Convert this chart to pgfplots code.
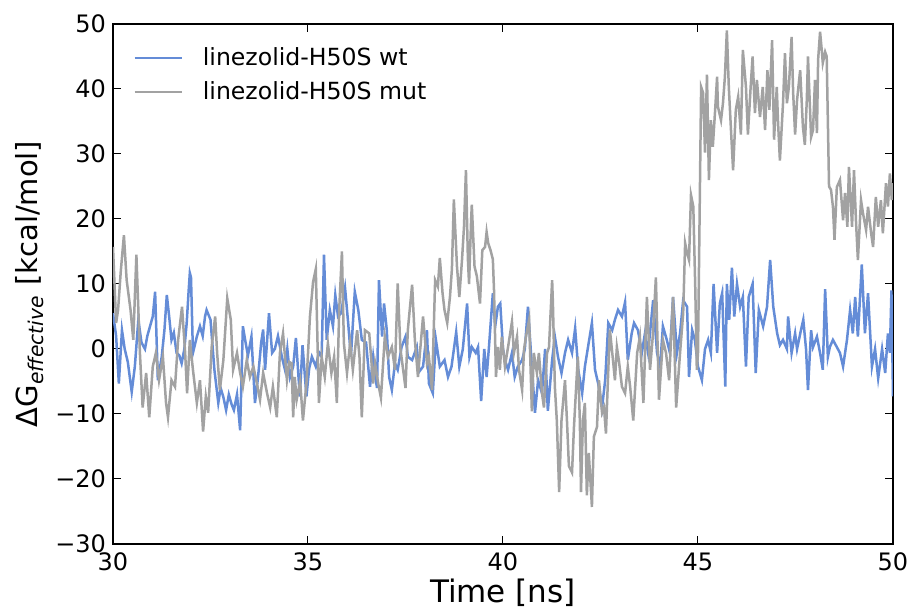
\documentclass[border=0pt]{standalone}
\usepackage{fontspec}
\setmainfont{DejaVu Sans}
\usepackage{pgfplots}
\pgfplotsset{compat=1.18}

\definecolor{wtblue}{RGB}{100,140,215}
\definecolor{mutgray}{RGB}{162,162,162}

\pgfplotstableread{
t v
30.00 5.5
30.08 2
30.15 -5.3
30.23 2.9
30.30 0
30.38 -2
30.48 -6.6
30.56 -2.7
30.65 4.5
30.73 1
30.82 0
30.88 2
30.95 3.5
31.02 5
31.08 8.8
31.15 -4.8
31.25 -1.2
31.32 3
31.38 8.3
31.44 5
31.50 1.4
31.56 2.5
31.63 -0.6
31.70 -1
31.76 -2.2
31.83 0
31.89 4
31.94 9
31.97 11.7
32.00 11
32.05 -0.6
32.15 1.9
32.23 3.5
32.30 2
32.36 5
32.40 6
32.50 4.5
32.60 -3.2
32.70 -8.3
32.76 -6
32.83 -7.4
32.90 -9.4
32.97 -7
33.04 -8.5
33.10 -9.4
33.18 -7
33.26 -12.5
33.33 3.5
33.40 1
33.46 -1
33.55 1.9
33.64 -8.3
33.72 -4.3
33.80 1
33.85 3
33.90 -3.2
34.00 5.5
34.08 -0.6
34.15 0
34.23 2
34.33 -1.2
34.41 -3.2
34.47 0
34.54 -4.3
34.62 -2.7
34.69 1.7
34.79 -7.3
34.86 0.6
34.96 -7.3
35.03 -3
35.10 -1.2
35.20 -2.7
35.28 -0.5
35.35 -1.2
35.41 14.5
35.48 1.4
35.56 6
35.64 3.5
35.70 8.3
35.77 5
35.85 5.5
35.95 9.4
36.03 4
36.10 -1.2
36.20 8.8
36.29 6
36.38 1.4
36.49 1
36.59 -5.8
36.67 -1.2
36.72 -4
36.77 -6
36.82 10.6
36.90 1.9
36.95 7
37.02 2.9
37.08 -4.3
37.15 -6.3
37.23 -2.2
37.30 -3.2
37.40 0.3
37.50 1.9
37.56 -1.2
37.67 -1.7
37.79 0.3
37.85 -3.5
37.95 -2.7
38.05 2.9
38.10 -5.3
38.20 -6.8
38.28 1.4
38.38 -2.7
38.50 -1.7
38.59 -4.3
38.68 -2.7
38.80 2.6
38.88 -2.7
38.97 0
39.08 7
39.14 -1.2
39.20 0.3
39.30 -0.6
39.36 0.3
39.44 -8
39.52 0
39.58 -4.3
39.64 0.3
39.74 8.6
39.80 3.5
39.87 6.5
39.93 7
40.00 0
40.05 -1.7
40.13 -3.2
40.23 -0.6
40.30 -4.3
40.38 -2.7
40.49 -1.7
40.56 0
40.64 6.5
40.74 -2.7
40.82 -9.8
40.90 -4.8
41.00 -6.8
41.08 0
41.15 -9.5
41.26 -1.7
41.33 1.9
41.41 -1.2
41.50 -3.7
41.59 -0.6
41.67 1.4
41.77 -0.6
41.85 3.2
41.93 -3.2
42.03 -6.8
42.10 -2.7
42.18 0.3
42.28 4
42.36 -3.2
42.44 -5.3
42.54 -9
42.62 -4.8
42.70 4
42.80 2.9
42.87 4.5
42.95 6
43.05 5
43.13 7.2
43.20 -1.7
43.30 2.4
43.36 4
43.46 2.9
43.56 -0.6
43.64 2.4
43.72 -0.6
43.85 7.5
43.95 -0.6
44.03 -2.7
44.10 3.5
44.20 1.4
44.28 -0.6
44.36 8
44.46 -0.6
44.54 2.4
44.62 7.5
44.72 6.5
44.77 -4.3
44.85 2.9
44.92 1.4
45.00 -2.7
45.10 -4.8
45.18 0
45.26 1.4
45.33 -0.6
45.40 10
45.49 -0.6
45.56 7
45.62 8.6
45.70 -5.8
45.74 10
45.80 4.5
45.87 12.5
45.93 5
46.00 10
46.08 6.5
46.15 8
46.23 -2.7
46.30 8
46.40 10
46.48 -3.7
46.56 6
46.67 3.5
46.72 5
46.77 6.5
46.85 13.7
46.93 6.5
47.03 2.4
47.10 0.6
47.18 1.4
47.28 0
47.31 5
47.40 -0.6
47.49 2.4
47.54 0
47.64 2.9
47.70 4.5
47.77 0
47.82 -6.3
47.90 2.9
47.95 0.3
48.05 1.9
48.13 -0.6
48.20 -3.2
48.26 9.2
48.33 -1.2
48.38 0.3
48.46 1.4
48.56 0.3
48.64 -0.6
48.72 -2.7
48.82 1.4
48.90 6
48.97 2.4
49.03 8
49.10 1.9
49.20 13
49.28 2.4
49.36 8.6
49.46 -2.7
49.54 0
49.62 -4.5
49.72 0
49.80 -3.7
49.87 2.4
49.92 -0.6
49.96 9
50.00 -7.3
}\wt

\pgfplotstableread{
t v
30.00 15.7
30.08 4
30.13 6
30.20 12
30.28 17.5
30.35 10.6
30.45 6
30.52 1.4
30.60 14.5
30.69 -0.6
30.76 -9
30.85 -3.7
30.93 -10.5
31.02 -2.7
31.10 -0.6
31.18 -4.8
31.28 -1.2
31.36 -8.3
31.41 -10.5
31.50 -4.8
31.59 -5.8
31.67 1.4
31.77 6.5
31.85 -0.6
31.90 -6.8
31.97 1.4
32.05 -3.2
32.15 -8.3
32.23 -4.8
32.31 -12.7
32.38 -7.3
32.44 -9.8
32.53 0.3
32.62 5
32.67 -0.6
32.74 -6.3
32.83 -1.7
32.93 7.8
33.02 4.5
33.08 -3.2
33.18 -0.6
33.26 -3.7
33.33 -5.8
33.43 -1.7
33.51 -4.3
33.60 -2.7
33.69 -5.3
33.77 -7.8
33.85 -3.7
33.95 -6.8
34.03 -9
34.10 -5.8
34.20 -10.5
34.28 -0.6
34.36 2.4
34.46 -4.8
34.52 -2
34.58 -2.2
34.62 -10.5
34.66 -4.3
34.71 -7.8
34.80 -5
34.87 -11
34.96 -5.3
35.05 5
35.13 10.3
35.20 12.3
35.28 -8.3
35.35 -1.2
35.43 -4.3
35.51 0.9
35.60 -3.7
35.67 -1.2
35.74 -8.3
35.80 6
35.87 15
35.92 0.9
36.00 -3.7
36.08 0.9
36.15 -3.2
36.26 2.9
36.32 -1.2
36.38 -10.5
36.46 2.9
36.57 2.4
36.67 -5.3
36.72 -2.2
36.80 -5.3
36.87 -7.5
36.97 1.9
37.05 -1.2
37.15 0.3
37.23 -3.2
37.30 10.1
37.37 0
37.44 -3.2
37.50 -6
37.56 2.9
37.60 5.5
37.67 9.9
37.74 1.4
37.82 -4.3
37.87 -0.6
37.95 5
38.05 -2.2
38.10 -1.2
38.18 -6.3
38.26 10.6
38.33 9.6
38.38 14
38.45 8.6
38.50 6
38.57 4
38.64 8
38.69 12.3
38.74 23
38.82 12.7
38.88 8
38.95 13.8
39.00 18.8
39.05 27.5
39.10 13.8
39.13 10
39.18 19.4
39.20 22.2
39.27 12.7
39.33 11.2
39.41 7
39.47 15.2
39.54 15.7
39.58 18
39.62 16.3
39.68 15.2
39.74 13.8
39.77 9
39.82 -4.3
39.87 0.3
39.92 -3.2
39.97 1.9
40.05 -2.7
40.13 0.3
40.23 4.2
40.28 -0.6
40.36 1.9
40.41 -3.2
40.49 -6.3
40.54 0
40.59 1.9
40.67 4.5
40.74 -9.6
40.79 -0.6
40.87 -3.7
40.92 -0.6
41.00 -6.8
41.05 -9
41.13 -0.6
41.18 0.3
41.26 10.6
41.28 7
41.33 -5.8
41.38 -11
41.44 -22
41.50 -11
41.59 -4.8
41.64 -11
41.69 -18
41.77 -19
41.82 -12
41.90 -3.2
41.92 -1.2
41.97 -11
42.00 -22
42.05 -11
42.10 -8.3
42.15 -22.5
42.20 -16
42.28 -24.3
42.33 -13.5
42.41 -12
42.46 -4.8
42.54 -9.8
42.59 -9
42.64 -13
42.70 -3.2
42.74 3
42.82 -1.7
42.87 -4.8
42.92 0.3
42.97 -1.7
43.05 -5.8
43.13 -6.8
43.20 -2.7
43.26 -5.8
43.34 -11
43.44 -0.6
43.51 1.9
43.60 -8.3
43.69 8
43.77 -3.2
43.84 1.9
43.92 11
44.00 -7.8
44.10 1.4
44.18 -0.6
44.26 -4.8
44.36 8
44.44 -9
44.54 -0.6
44.62 5.5
44.67 16.3
44.72 14.8
44.77 13.7
44.82 23.7
44.88 21.9
44.93 9.4
44.97 -3.2
45.00 -0.6
45.08 40.3
45.13 39.4
45.18 30.2
45.23 42.2
45.28 26
45.33 35.2
45.38 31.1
45.44 36.8
45.49 41.9
45.51 37.3
45.59 35.2
45.64 37.8
45.69 41.9
45.74 49
45.79 40.3
45.85 33.2
45.90 27.5
45.97 36.8
46.03 38.8
46.10 33
46.15 46
46.23 40.3
46.28 33
46.35 40.3
46.40 45
46.46 36.3
46.51 41.4
46.59 35.7
46.66 40.3
46.72 33.7
46.78 42.9
46.83 36.8
46.90 47.5
46.95 32.2
47.02 40.3
47.05 35.2
47.10 29
47.18 37.8
47.23 45.5
47.28 37.8
47.33 40.3
47.40 48
47.44 39.4
47.49 33
47.54 38.3
47.62 42.9
47.69 34.2
47.74 31.4
47.79 38.3
47.82 45
47.90 32.6
47.95 33.7
48.00 41.4
48.05 33.2
48.08 44.5
48.13 48.8
48.18 45.5
48.20 44
48.26 45.7
48.30 45
48.36 25
48.41 24.5
48.46 21.9
48.50 16.8
48.56 24.9
48.64 26
48.72 19.8
48.77 24
48.83 18.8
48.87 28
48.95 18.8
49.00 27.5
49.05 19.8
49.10 13.7
49.18 22.9
49.23 20.9
49.31 18.3
49.36 21.9
49.44 17.8
49.49 15.7
49.56 23.4
49.62 18.8
49.69 22.9
49.74 17.8
49.82 25.5
49.87 21.9
49.92 27
49.97 22.9
50.00 25.5
}\mut

\begin{document}
\begin{tikzpicture}
\begin{axis}[
    name=ax,
    scale only axis,
    width=390pt, height=260pt,
    xmin=30, xmax=50,
    ymin=-30, ymax=50,
    xtick={30,35,40,45,50},
    ytick={-30,-20,-10,0,10,20,30,40,50},
    yticklabels={−30,−20,−10,0,10,20,30,40,50},
    /pgf/number format/assume math mode=true,
    tick align=inside,
    major tick length=4pt,
    tick style={black, line width=0.5pt},
    axis line style={line width=0.9pt},
    tick label style={font=\fontsize{12}{14}\selectfont},
    xticklabel style={yshift=-1pt},
    xlabel={Time [ns]},
    ylabel={ΔG\textsubscript{\itshape effective} [kcal/mol]},
    xlabel style={font=\fontsize{15.5}{17}\selectfont, yshift=3pt},
    ylabel style={font=\fontsize{14.5}{16}\selectfont, yshift=-1pt},
    legend style={draw=none, fill=none, at={(0,1)}, anchor=north west,
        xshift=10pt, yshift=-11.5pt, inner sep=0pt,
        font=\fontsize{11.8}{13.5}\selectfont, row sep=6.5pt,
        nodes={inner sep=0pt},
        /tikz/every odd column/.append style={column sep=10pt}},
    legend cell align=left,
    legend image code/.code={\draw[#1] (0pt,0pt) -- (23.5pt,0pt);},
    ]
\addplot[wtblue, line width=1.25pt] table[x=t, y=v] {\wt};
\addlegendentry{linezolid-H50S wt}
\addplot[mutgray, line width=1.25pt] table[x=t, y=v] {\mut};
\addlegendentry{linezolid-H50S mut}
\end{axis}
\pgfresetboundingbox
\path[use as bounding box] ([shift={(-56.5pt,-33pt)}]ax.south west) rectangle ++(456pt,305pt);
\end{tikzpicture}
\end{document}
